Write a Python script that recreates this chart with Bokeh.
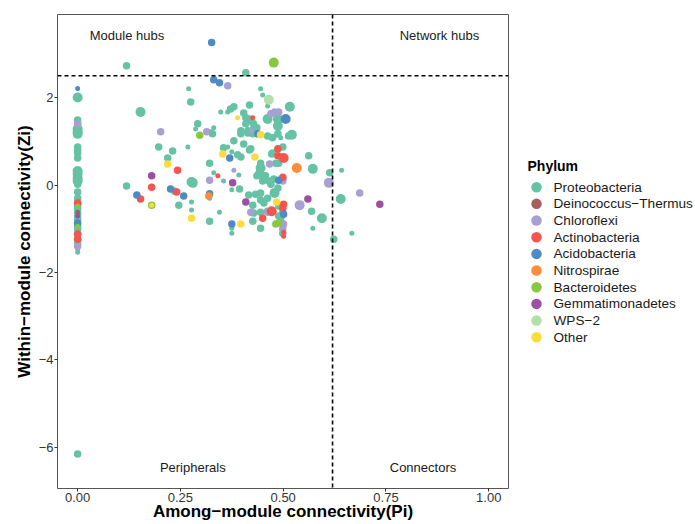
from bokeh.plotting import figure
from bokeh.layouts import row
from bokeh.models import Span, FixedTicker, NumeralTickFormatter, ColumnDataSource, Range1d
from bokeh.core.properties import value
from bokeh.embed import file_html
from bokeh.resources import INLINE

FONT = "Liberation Sans"

phyla = ["Proteobacteria", "Deinococcus\u2212Thermus", "Chloroflexi", "Actinobacteria",
         "Acidobacteria", "Nitrospirae", "Bacteroidetes", "Gemmatimonadetes", "WPS\u22122", "Other"]
colors = ["#66C2A5", "#A65E5E", "#A89FD3", "#F4554F", "#4F8AC4", "#FD8D3C",
          "#88C840", "#9C4FA3", "#B3E0A8", "#FCDC3C"]

# (Pi, Zi, degree class)
proteobacteria = [
    (0, 2.00, 3), (0, 1.49, 2), (0, 1.40, 2), (0, 1.28, 3), (0, 1.22, 3), (0, 1.17, 3),
    (0, 0.87, 2), (0, 0.80, 2), (0, 0.73, 2), (0, 0.62, 2), (0, 0.32, 3), (0, 0.25, 3),
    (0, 0.16, 3), (0, 0.09, 3), (0, 0.02, 2), (0, -0.16, 2), (0, -0.30, 2), (0, -0.41, 2),
    (0, -0.48, 2), (0, -0.55, 2), (0, -0.64, 2), (0, -0.71, 2), (0, -0.78, 2), (0, -0.94, 2),
    (0, -1.01, 2), (0, -1.12, 2), (0, -1.24, 2), (0, -1.33, 2), (0, -1.47, 1), (0, -1.54, 1),
    (0, -6.15, 2),
    (0.119, 2.73, 2), (0.409, 2.57, 2), (0.270, 2.20, 1), (0.445, 2.20, 1), (0.450, 2.06, 1),
    (0.275, 1.90, 2), (0.153, 1.67, 3), (0.516, 1.79, 3), (0.462, 1.81, 1), (0.348, 1.67, 1),
    (0.380, 1.79, 2), (0.372, 1.74, 2), (0.365, 1.67, 1), (0.418, 1.83, 2), (0.404, 1.65, 2),
    (0.419, 1.51, 2), (0.462, 1.51, 3), (0.487, 1.51, 3), (0.292, 1.40, 2), (0.287, 1.28, 1),
    (0.331, 1.31, 1), (0.428, 1.40, 2), (0.436, 1.31, 2), (0.414, 1.24, 2), (0.397, 1.24, 2),
    (0.487, 1.35, 3), (0.324, 1.22, 1), (0.462, 1.12, 2), (0.479, 1.12, 1), (0.494, 1.08, 1),
    (0.521, 1.15, 3), (0.513, 1.12, 2), (0.197, 0.87, 2), (0.268, 0.87, 1), (0.380, 1.01, 2),
    (0.404, 0.94, 2), (0.499, 0.87, 2), (0.231, 0.78, 2), (0.365, 0.87, 1), (0.375, 0.76, 1),
    (0.421, 0.83, 2), (0.389, 0.69, 2), (0.397, 0.64, 2), (0.472, 0.71, 2), (0.562, 0.67, 2),
    (0.219, 0.62, 2), (0.321, 0.50, 2), (0.445, 0.39, 3), (0.443, 0.25, 3), (0.572, 0.37, 3),
    (0.331, 0.28, 1), (0.613, 0.28, 2), (0.642, 0.34, 1), (0.392, 0.23, 1), (0.277, 0.07, 3),
    (0.355, 0.09, 1), (0.119, -0.02, 2), (0.236, -0.14, 2), (0.246, -0.46, 2), (0.321, -0.30, 1),
    (0.277, -0.39, 1), (0.277, -0.57, 1), (0.345, -0.62, 1), (0.375, -0.11, 1), (0.394, -0.09, 2),
    (0.416, -0.23, 2), (0.426, -0.46, 2), (0.445, -0.18, 2), (0.445, -0.34, 2), (0.445, -0.62, 2),
    (0.462, -0.30, 2), (0.479, -0.18, 3), (0.487, -0.07, 2), (0.499, -0.62, 2), (0.489, -0.71, 2),
    (0.569, -0.60, 2), (0.594, -0.76, 3), (0.640, -0.32, 3), (0.321, -0.83, 2), (0.375, -0.99, 1),
    (0.375, -1.10, 1), (0.426, -0.83, 2), (0.445, -0.99, 2), (0.499, -1.10, 2), (0.572, -0.99, 1),
    (0.623, -1.24, 2), (0.667, -1.10, 1), (0.445, 0.50, 2), (0.436, 0.21, 2), (0.457, 0.21, 2),
    (0.450, 0.09, 2), (0.465, 0.09, 2), (0.477, 0.14, 2), (0.470, 0.02, 2), (0.474, -0.18, 1),
    (0.433, -0.21, 2), (0.453, -0.41, 2), (0.428, -0.64, 2), (0.482, 0.50, 2), (0.489, -0.48, 2),
    (0.494, -0.76, 2), (0.462, -0.60, 2), (0.280, 0.05, 3), (0.428, 1.28, 2), (0.487, 1.40, 2),
    (0.487, 1.17, 2), (0.474, 1.08, 2), (0.474, 0.73, 2), (0.489, 0.50, 2), (0.409, 1.54, 2),
    (0.416, 1.47, 2), (0.409, 1.40, 2), (0.328, 1.17, 2), (0.414, 1.19, 2), (0.426, 1.17, 2),
    (0.397, 1.17, 2), (0.355, 0.85, 2), (0.418, 0.80, 2),
]
deinococcus_thermus = [(0, -0.62, 1)]
chloroflexi = [
    (0.365, 2.27, 2), (0.479, 1.67, 2), (0.489, 1.67, 2), (0.470, 1.63, 2), (0.202, 1.22, 2),
    (0.314, 1.22, 2), (0.423, 1.24, 1), (0.467, 0.48, 2), (0.380, 0.34, 1), (0.321, 0.11, 2),
    (0.499, 0.09, 2), (0.499, 0.14, 2), (0.611, 0.05, 3), (0.686, -0.18, 2), (0.540, -0.46, 3),
    (0.421, -0.62, 2), (0.462, -0.62, 2), (0.501, -0.89, 2), (0.499, -1.00, 2), (0, 1.40, 2),
    (0, -1.40, 2), (0, -1.08, 1),
]
actinobacteria = [
    (0.426, 1.54, 1), (0.487, 0.83, 2), (0.487, 0.67, 2), (0.501, 0.62, 3), (0.243, 0.34, 2),
    (0.341, 0.21, 1), (0.499, 0.18, 2), (0.180, -0.05, 2), (0.241, -0.16, 2), (0.153, -0.32, 2),
    (0.501, -0.44, 2), (0.499, -0.53, 2), (0.472, -0.60, 3), (0.450, -0.76, 2), (0.501, -1.08, 1),
    (0.501, -1.17, 1), (0, -0.41, 2), (0, -1.12, 2), (0, -1.24, 2),
]
acidobacteria = [
    (0.326, 3.26, 2), (0.331, 2.41, 2), (0.345, 2.34, 2), (0.506, 1.51, 3), (0.438, 1.17, 2),
    (0.370, 0.62, 2), (0.489, 0.11, 2), (0.226, -0.09, 2), (0.258, -0.25, 2), (0.144, -0.23, 2),
    (0.321, -0.20, 2), (0.375, -0.89, 2), (0.501, -0.67, 2), (0, 2.21, 1), (0, -0.87, 2),
]
nitrospirae = [(0.533, 0.39, 3), (0.319, -0.25, 2)]
bacteroidetes = [
    (0.477, 2.80, 3), (0.297, 1.14, 2), (0.482, -0.89, 2), (0.489, -0.87, 2), (0.180, -0.46, 2),
    (0, -0.48, 1), (0, -0.94, 1),
]
gemmatimonadetes = [
    (0.180, 0.21, 2), (0.377, 0.05, 2), (0.409, -0.39, 2), (0.560, -0.32, 2), (0.735, -0.44, 2),
    (0, -0.71, 1),
]
wps2 = [(0.465, 1.95, 3)]
other = [
    (0.389, 1.54, 1), (0.445, 1.15, 2), (0.353, 0.71, 2), (0.431, 0.64, 2), (0.219, 0.48, 2),
    (0.484, -0.39, 2), (0.277, -0.76, 2), (0.397, -0.89, 2), (0.180, -0.46, 1),
]
groups = [proteobacteria, deinococcus_thermus, chloroflexi, actinobacteria, acidobacteria,
          nitrospirae, bacteroidetes, gemmatimonadetes, wps2, other]

pi_threshold = 0.62
zi_threshold = 2.5
x_ticks = [0, 0.25, 0.5, 0.75, 1.0]
y_ticks = [-6, -4, -2, 0, 2]
role_names = ["Module hubs", "Network hubs", "Peripherals", "Connectors"]
role_pi = [0.12, 0.88, 0.28, 0.84]
role_zi = [3.42, 3.42, -6.45, -6.45]
legend_title = "Phylum"

size_of = {1: 5, 2: 7.5, 3: 10}

# ---------------- main scatter panel ----------------
p = figure(width=522, height=524, x_range=(-0.049, 1.048), y_range=(-6.94, 3.90),
           output_backend="svg", toolbar_location=None,
           min_border_left=57, min_border_right=14, min_border_top=14, min_border_bottom=36)
p.background_fill_color = "white"
p.border_fill_color = "white"
p.outline_line_color = "#555555"
p.outline_line_width = 1
p.xgrid.visible = False
p.ygrid.visible = False

for ax in (p.xaxis[0], p.yaxis[0]):
    ax.axis_line_color = None
    ax.major_tick_line_color = "#333333"
    ax.major_tick_out = 3
    ax.major_tick_in = 0
    ax.minor_tick_line_color = None
    ax.major_label_text_font = FONT
    ax.major_label_text_font_size = "13px"
    ax.major_label_text_color = "#333333"
    ax.major_label_standoff = 1
    ax.axis_label_text_font = FONT
    ax.axis_label_text_font_style = "bold"
    ax.axis_label_text_font_size = "17px"
    ax.axis_label_text_color = "black"
p.xaxis.axis_label_standoff = -3
p.yaxis.axis_label_standoff = 2

p.xaxis.ticker = FixedTicker(ticks=x_ticks)
p.xaxis.formatter = NumeralTickFormatter(format="0.00")
p.yaxis.ticker = FixedTicker(ticks=y_ticks)
p.yaxis.major_label_overrides = {t: (str(t).replace("-", "\u2212")) for t in y_ticks}
p.xaxis.axis_label = "Among\u2212module connectivity(Pi)"
p.yaxis.axis_label = "Within\u2212module connectivity(Zi)"

for name, col, pts in zip(phyla, colors, groups):
    src = ColumnDataSource(dict(pi=[a for a, b, c in pts], zi=[b for a, b, c in pts],
                                sz=[size_of[c] for a, b, c in pts]))
    p.scatter("pi", "zi", size="sz", source=src, fill_color=col, line_color=None,
              fill_alpha=1.0, name=name)

p.add_layout(Span(location=pi_threshold, dimension="height", line_color="black",
                  line_dash="4 3", line_width=1.6))
p.add_layout(Span(location=zi_threshold, dimension="width", line_color="black",
                  line_dash="4 3", line_width=1.6))

p.text(x=role_pi, y=role_zi, text=role_names, text_font=value(FONT), text_font_size="13px",
       text_color="#1a1a1a", text_align="center", text_baseline="middle")

# ---------------- legend panel (pixel-like coordinates, y downward) ----------------
lg = figure(width=173, height=524, x_range=Range1d(0, 173), y_range=Range1d(488, 14),
            output_backend="svg", toolbar_location=None,
            x_axis_location=None, y_axis_location=None,
            min_border_left=0, min_border_right=0, min_border_top=14, min_border_bottom=36)
lg.outline_line_color = None
lg.xgrid.visible = False
lg.ygrid.visible = False
lg.background_fill_color = "white"
lg.border_fill_color = "white"

row_y = [186.7 + 16.67 * i for i in range(len(phyla))]
lg.scatter(x=[14] * len(phyla), y=row_y, size=10.5, fill_color=colors, line_color=None)
lg.text(x=[31] * len(phyla), y=row_y, text=phyla, text_font=value(FONT),
        text_font_size="13.6px", text_color="#1a1a1a", text_baseline="middle", text_align="left")
lg.text(x=[5], y=[165], text=[legend_title], text_font=value(FONT), text_font_size="14px",
        text_font_style="bold", text_color="black", text_baseline="middle", text_align="left")

layout = row(p, lg, spacing=0)
open("out.html", "w").write(file_html(layout, INLINE))
